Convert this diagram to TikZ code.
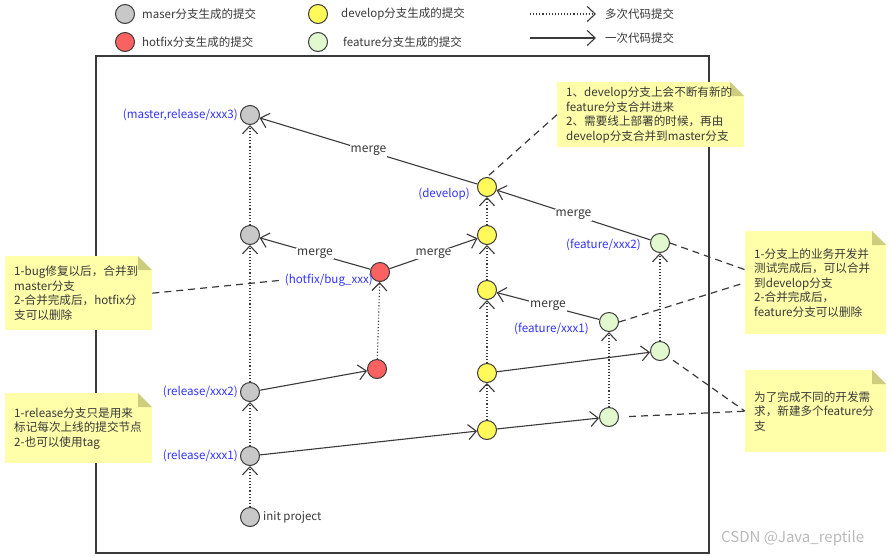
\documentclass[tikz,border=0pt]{standalone}
\usepackage{fontspec}
\setmainfont{Noto Sans CJK SC}
\usetikzlibrary{arrows.meta, positioning, calc}
\definecolor{edge}{HTML}{3A3A3A}
\definecolor{txtgray}{HTML}{383838}
\definecolor{mstgray}{HTML}{C8C8C8}
\definecolor{hfxred}{HTML}{FA6262}
\definecolor{devyellow}{HTML}{FFF95A}
\definecolor{featgreen}{HTML}{E2F8CE}
\definecolor{tagblue}{HTML}{3232FF}
\definecolor{notebg}{HTML}{FFFFAA}
\definecolor{notefold}{HTML}{CDCD80}
\tikzset{
  commit/.style={circle, draw=edge, line width=1pt, minimum size=19pt, inner sep=0pt},
  mst/.style={commit, fill=mstgray},
  hfx/.style={commit, fill=hfxred},
  dev/.style={commit, fill=devyellow},
  feat/.style={commit, fill=featgreen},
  tag/.style={font=\fontsize{11.6}{13}\selectfont, text=tagblue, inner sep=1pt},
  legtxt/.style={font=\fontsize{11.5}{13}\selectfont, text=txtgray, anchor=west, inner sep=0pt},
  once/.style={-{Straight Barb[length=8pt,width=15pt,line width=1.1pt]}, line width=1.1pt, draw=edge},
  many/.style={once, dotted},
  mergetxt/.style={fill=white, text=txtgray, font=\fontsize{12}{13}\selectfont, inner sep=1pt},
  memo/.style={rectangle, fill=notebg, anchor=north west, align=left, inner xsep=9pt,
               text=txtgray, font=\fontsize{11.6}{14.5}\selectfont,
               path picture={
                 \fill[white] ([xshift=-14pt]path picture bounding box.north east)
                   -- (path picture bounding box.north east)
                   -- ([yshift=-14pt]path picture bounding box.north east) -- cycle;
                 \fill[notefold] ([xshift=-14pt]path picture bounding box.north east)
                   -- ([xshift=-14pt,yshift=-14pt]path picture bounding box.north east)
                   -- ([yshift=-14pt]path picture bounding box.north east) -- cycle;
               }},
  memolink/.style={draw=edge, line width=1.2pt, dash pattern=on 7pt off 5pt},
  frame/.style={draw=edge, line width=1.4pt},
}
\begin{document}
\begin{tikzpicture}[x=1pt, y=-1pt]
  \useasboundingbox (0,0) rectangle (894,555);

  % legend
  \node[mst] (lgm) at (125,14) {};
  \node[legtxt, right=7pt of lgm] {maser分支生成的提交};
  \node[hfx] (lgh) at (125,42) {};
  \node[legtxt, right=7pt of lgh] {hotfix分支生成的提交};
  \node[dev] (lgd) at (318,14) {};
  \node[legtxt, right=13pt of lgd] {develop分支生成的提交};
  \node[feat] (lgf) at (318,42) {};
  \node[legtxt, right=15pt of lgf] {feature分支生成的提交};
  \coordinate (lgma) at (530,14);
  \coordinate (lgmb) at (596,14);
  \coordinate (lgoa) at (530,38);
  \coordinate (lgob) at (596,38);
  \draw[many] (lgma) -- (lgmb);
  \draw[once] (lgoa) -- (lgob);
  \node[legtxt, right=9pt of lgmb] {多次代码提交};
  \node[legtxt, right=9pt of lgob] {一次代码提交};

  \draw[frame] (96,56) rectangle (709,553);

  % master / release
  \node[mst] (mst3) at (250,115) {};
  \node[mst] (mst2) at (250,235) {};
  \node[mst] (rel2) at (250,392) {};
  \node[mst] (rel1) at (250,456) {};
  \node[mst] (init) at (250,517) {};
  \node[tag, left=1pt of mst3] {(master,release/xxx3)};
  \node[tag, left=1pt of rel2] {(release/xxx2)};
  \node[tag, left=1pt of rel1] {(release/xxx1)};
  \node[legtxt, right=3pt of init] {init project};

  % hotfix
  \node[hfx] (hfx1) at (380,272) {};
  \node[hfx] (hfx0) at (377,369) {};
  \node[tag, anchor=east] (hfxlbl) at ([xshift=4pt,yshift=-8pt]hfx1.west) {(hotfix/bug\_xxx)};

  % develop
  \node[dev] (dev1) at (487,187) {};
  \node[dev] (dev2) at (487,235) {};
  \node[dev] (dev3) at (487,290) {};
  \node[dev] (dev4) at (487,373) {};
  \node[dev] (dev5) at (487,430) {};
  \node[tag, anchor=east] at ([xshift=-6pt,yshift=-7pt]dev1.west) {(develop)};

  % feature
  \node[feat] (ft2) at (660,243) {};
  \node[feat] (ft1) at (609,322) {};
  \node[feat] (ft3) at (660,351) {};
  \node[feat] (ft4) at (609,417) {};
  \node[tag, anchor=east] at ([xshift=-8pt,yshift=-2pt]ft2.west) {(feature/xxx2)};
  \node[tag, anchor=east] at ([xshift=-9pt,yshift=-7pt]ft1.west) {(feature/xxx1)};

  % commits on one branch
  \draw[many] (init) -- (rel1);
  \draw[many] (rel1) -- (rel2);
  \draw[many] (rel2) -- (mst2);
  \draw[many] (mst2) -- (mst3);
  \draw[many] (hfx0) -- (hfx1);
  \draw[many] (dev5) -- (dev4);
  \draw[many] (dev4) -- (dev3);
  \draw[many] (dev3) -- (dev2);
  \draw[many] (dev2) -- (dev1);
  \draw[many] (ft4) -- (ft1);
  \draw[many] (ft3) -- (ft2);

  % branching
  \draw[once] (rel1) -- (dev5);
  \draw[once] (dev5) -- (ft4);
  \draw[once] (rel2) -- (hfx0);
  \draw[once] (dev4) -- (ft3);

  % merges
  \draw[once] (dev1) -- node[mergetxt] {merge} (mst3);
  \draw[once] (hfx1) -- node[mergetxt] {merge} (mst2);
  \draw[once] (hfx1) -- node[mergetxt] {merge} (dev2);
  \draw[once] (ft2) -- node[mergetxt] {merge} (dev1);
  \draw[once] (ft1) -- node[mergetxt] {merge} (dev3);

  % notes
  \node[memo, text width=169pt, minimum height=65pt] (devnote) at (557,82)
    {1、develop分支上会不断有新的\\feature分支合并进来\\2、需要线上部署的时候，再由\\develop分支合并到master分支};
  \node[memo, text width=129pt, minimum height=74pt] (hfxnote) at (5,256)
    {1-bug修复以后，合并到\\master分支\\2-合并完成后，hotfix分\\支可以删除};
  \node[memo, text width=129pt, minimum height=70pt] (relnote) at (5,393)
    {1-release分支只是用来\\标记每次上线的提交节点\\2-也可以使用tag};
  \node[memo, text width=123pt, minimum height=103pt] (mrgnote) at (745,231)
    {1-分支上的业务开发并\\测试完成后，可以合并\\到develop分支\\2-合并完成后，\\feature分支可以删除};
  \node[memo, text width=123pt, minimum height=82pt] (newnote) at (745,370)
    {为了完成不同的开发需\\求，新建多个feature分\\支};

  \draw[memolink] (devnote.west) -- (dev1.north);
  \draw[memolink] (hfxnote.east) -- (hfxlbl.west);
  \draw[memolink] (ft2.east) -- ([yshift=13pt]mrgnote.west);
  \draw[memolink] (ft1.east) -- (mrgnote.west);
  \draw[memolink, shorten <=6pt] (ft3) -- (newnote.west);
  \draw[memolink, shorten <=10pt] (ft4.east) -- (newnote.west);

  \node[text=gray!55, font=\fontsize{15}{17}\selectfont, anchor=west, inner sep=0pt] (mark) at (721,538) {CSDN @Java\_reptile};
\end{tikzpicture}
\end{document}
